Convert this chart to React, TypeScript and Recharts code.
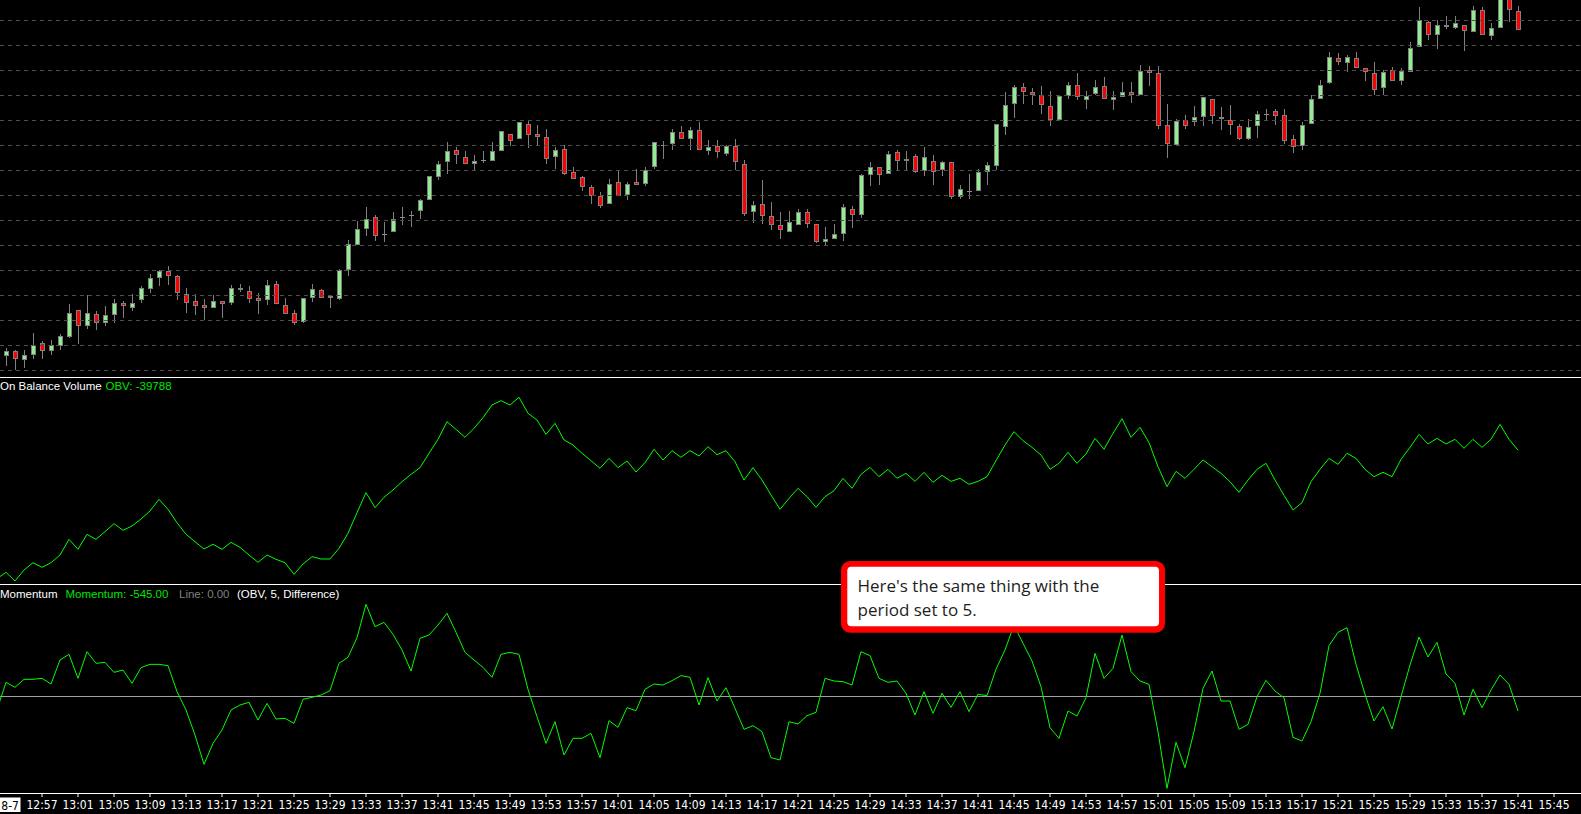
import React from 'react';
import { ComposedChart, LineChart, Line, Bar, XAxis, YAxis, ReferenceLine } from 'recharts';

// One-minute bars, first bar at 12:53 (price units: hidden axis, grid every 25)
const START_TIME = '12:53';

const openPrices = [
  38.7, 44.0, 34.7, 39.7, 51.7, 43.7, 48.7, 58.3, 84.7, 68.7,
  80.7, 71.7, 79.7, 91.7, 86.7, 94.7, 105.7, 116.7, 123.7, 118.7,
  100.7, 93.7, 89.7, 86.7, 93.7, 91.7, 106.7, 103.7, 96.7, 94.7,
  110.7, 89.7, 81.7, 73.3, 96.7, 104.7, 98.7, 95.7, 124.7, 150.3,
  165.7, 177.7, 160.5, 162.7, 178.2, 180.2, 183.7, 194.7, 217.7, 232.7,
  244.7, 237.7, 230.7, 234.7, 233.7, 243.7, 260.7, 255.7, 270.7, 260.7,
  257.7, 237.7, 245.7, 222.7, 217.7, 207.7, 198.7, 190.7, 212.7, 199.7,
  212.7, 210.7, 227.7, 250.5, 250.7, 262.7, 255.7, 264.7, 243.7, 248.7,
  240.7, 248.7, 230.7, 182.7, 190.7, 178.7, 169.7, 162.7, 169.7, 182.7,
  170.7, 152.7, 155.7, 160.7, 185.7, 179.7, 219.7, 227.7, 220.7, 242.7,
  233.7, 238.7, 223.7, 233.7, 224.7, 232.7, 197.7, 203.7, 203.7, 222.7,
  228.7, 267.7, 290.7, 307.7, 302.7, 299.7, 288.7, 274.7, 298.7, 309.7,
  294.7, 300.7, 308.7, 294.7, 297.7, 302.7, 299.7, 324.7, 321.7, 269.7,
  249.7, 274.7, 272.7, 277.7, 295.7, 277.7, 274.7, 268.7, 255.7, 268.7,
  281.2, 283.7, 279.7, 255.7, 248.7, 270.7, 295.7, 311.7, 336.7, 331.7,
  336.7, 326.7, 321.7, 306.7, 324.7, 313.7, 322.7, 347.7, 372.7, 359.7,
  369.7, 366.7, 369.7, 362.7, 384.7, 358.7, 366.7, 398.0, 383.7,
];

const highPrices = [
  46.7, 45.0, 45.0, 62.0, 54.0, 55.0, 61.0, 91.0, 85.5, 99.7,
  83.7, 89.0, 96.0, 93.7, 101.0, 109.0, 121.0, 125.0, 129.0, 119.7,
  107.0, 101.0, 96.0, 99.7, 93.7, 110.0, 111.0, 109.0, 102.0, 115.0,
  114.0, 97.0, 85.0, 96.7, 111.0, 106.3, 99.7, 125.7, 155.0, 174.3,
  188.0, 179.7, 173.0, 182.7, 187.7, 184.3, 195.7, 218.7, 233.7, 252.7,
  247.7, 243.7, 239.7, 243.7, 252.7, 263.7, 260.7, 272.7, 273.7, 269.7,
  265.7, 247.7, 249.7, 227.7, 218.7, 209.7, 202.7, 215.7, 224.7, 212.7,
  225.7, 227.7, 252.7, 253.7, 265.7, 268.7, 267.7, 272.7, 254.7, 254.7,
  249.7, 255.7, 234.7, 193.7, 214.7, 192.7, 182.7, 183.7, 185.7, 185.7,
  170.7, 167.7, 170.7, 190.7, 188.7, 220.7, 232.7, 227.7, 243.7, 244.7,
  243.7, 240.7, 247.7, 239.7, 233.7, 232.7, 209.7, 220.7, 225.7, 232.7,
  270.7, 302.7, 309.7, 311.7, 306.7, 308.7, 303.7, 299.7, 312.7, 321.7,
  303.7, 314.7, 317.7, 303.7, 312.7, 312.7, 329.7, 328.7, 328.7, 290.7,
  275.7, 279.7, 288.7, 297.7, 295.7, 287.7, 289.7, 270.7, 275.7, 283.7,
  285.7, 285.7, 285.7, 259.7, 272.7, 299.7, 314.7, 342.7, 341.7, 339.7,
  342.7, 326.7, 332.7, 324.7, 327.7, 326.7, 352.7, 387.7, 373.7, 374.7,
  378.7, 378.7, 369.7, 388.7, 387.7, 371.7, 405.0, 402.0, 388.7,
];

const lowPrices = [
  29.3, 25.0, 27.3, 36.3, 36.3, 40.3, 45.3, 57.3, 51.3, 66.3,
  65.3, 69.3, 72.3, 77.3, 84.3, 92.3, 102.3, 109.3, 110.3, 95.3,
  82.3, 80.3, 75.3, 86.7, 77.3, 89.7, 102.7, 91.7, 81.3, 90.3,
  90.7, 80.7, 69.7, 72.3, 92.7, 96.7, 87.3, 95.3, 119.3, 150.3,
  159.3, 154.3, 153.3, 162.7, 170.3, 168.3, 176.3, 194.7, 215.3, 220.7,
  230.7, 230.7, 224.7, 231.7, 233.7, 243.7, 248.7, 255.7, 246.7, 249.7,
  230.7, 225.7, 219.7, 215.7, 203.7, 191.3, 186.7, 190.7, 198.7, 195.3,
  209.7, 208.7, 225.7, 235.7, 244.7, 255.7, 244.7, 244.7, 239.7, 236.7,
  238.7, 224.7, 178.7, 171.7, 170.7, 165.3, 156.3, 162.7, 169.7, 166.7,
  151.7, 149.7, 155.7, 153.7, 166.7, 176.7, 208.7, 209.7, 220.7, 224.7,
  223.7, 221.7, 218.7, 209.7, 218.7, 195.7, 195.7, 195.7, 203.7, 209.7,
  224.7, 259.7, 276.7, 290.7, 289.7, 280.7, 268.7, 274.7, 295.7, 294.7,
  285.7, 299.7, 295.7, 284.7, 297.7, 291.7, 299.7, 308.7, 265.7, 236.7,
  249.7, 265.7, 268.7, 268.7, 270.7, 264.7, 259.7, 254.7, 254.7, 256.7,
  273.7, 269.7, 250.7, 241.7, 244.7, 270.7, 295.7, 310.7, 329.7, 322.7,
  326.7, 313.7, 299.7, 299.7, 313.7, 309.7, 322.7, 347.7, 354.7, 345.7,
  365.7, 365.7, 343.7, 362.7, 359.7, 354.7, 366.7, 372.7, 364.7,
];

const closePrices = [
  44.0, 35.7, 39.7, 49.7, 43.7, 49.7, 58.7, 81.7, 68.7, 81.7,
  71.7, 79.7, 91.7, 88.7, 91.7, 106.7, 116.7, 123.7, 118.7, 101.7,
  91.7, 88.7, 86.7, 93.7, 90.7, 106.7, 104.7, 95.7, 93.7, 109.7,
  90.7, 80.7, 71.7, 96.7, 105.7, 96.7, 96.7, 124.7, 150.7, 165.7,
  175.7, 158.7, 160.5, 175.7, 178.2, 180.2, 194.7, 218.7, 230.7, 243.7,
  239.7, 230.7, 233.7, 234.7, 243.7, 263.7, 253.7, 272.7, 259.7, 257.7,
  235.7, 244.7, 220.7, 215.7, 207.7, 198.7, 188.7, 210.7, 198.7, 210.7,
  209.7, 224.7, 252.7, 250.5, 262.7, 255.7, 264.7, 244.7, 247.7, 242.7,
  248.7, 232.7, 180.7, 189.7, 178.7, 169.7, 164.7, 172.7, 182.7, 170.7,
  152.7, 155.7, 160.7, 187.7, 179.7, 219.7, 227.7, 219.7, 240.7, 233.7,
  235.7, 222.7, 237.7, 222.7, 232.7, 197.7, 205.7, 203.7, 222.7, 229.7,
  270.7, 289.7, 307.7, 302.7, 299.7, 289.7, 274.7, 298.7, 309.7, 297.7,
  298.7, 307.7, 295.7, 297.7, 302.7, 299.7, 323.7, 321.7, 268.7, 250.7,
  273.7, 268.7, 277.7, 297.7, 278.7, 275.7, 269.7, 255.7, 267.7, 280.7,
  281.2, 278.7, 253.7, 247.7, 269.7, 295.7, 309.7, 337.7, 332.7, 337.7,
  326.7, 322.7, 304.7, 322.7, 313.7, 323.7, 346.7, 374.7, 359.7, 369.7,
  367.7, 371.7, 363.7, 384.7, 359.7, 366.7, 400.0, 384.7, 364.7,
];

// On Balance Volume, first value is the bar before 12:53 (12:52)
const obvValues = [
  -46342,
  -46019, -46461, -45900, -45526, -45764, -45526, -45135, -44336, -44846, -44081,
  -44336, -43945, -43537, -43877, -43656, -43299, -42891, -42296, -42806, -43486,
  -44081, -44455, -44829, -44591, -44846, -44489, -44744, -45135, -45509, -45135,
  -45356, -45526, -46121, -45594, -45220, -45339, -45339, -44795, -44030, -42976,
  -41956, -42721, -42194, -41820, -41395, -41021, -40681, -39950, -39236, -38335,
  -38726, -39134, -38675, -38131, -37485, -37264, -37485, -37094, -37910, -38250,
  -38981, -38420, -39270, -39525, -39950, -40324, -40715, -40205, -40681, -40341,
  -40902, -40426, -39746, -40290, -39814, -40154, -39814, -40086, -39610, -40018,
  -39814, -40375, -41310, -40681, -41310, -42075, -42806, -42245, -41735, -42160,
  -42704, -42160, -41854, -41225, -41735, -41021, -40664, -41140, -40766, -41225,
  -40970, -41378, -40919, -41429, -41072, -41378, -41225, -41531, -41378, -41140,
  -40324, -39525, -38845, -39304, -39644, -40035, -40766, -40460, -39899, -40460,
  -39984, -39185, -39746, -38930, -38182, -39134, -38624, -39406, -40630, -41650,
  -40868, -41225, -40766, -40290, -40630, -40970, -41395, -41939, -41310, -40766,
  -40460, -41310, -42092, -42840, -42466, -41395, -40766, -40205, -40511, -39950,
  -40205, -40766, -41140, -40919, -41140, -40256, -39644, -38981, -39474, -39185,
  -39474, -39236, -39695, -39236, -39644, -39236, -38471, -39236, -39788,
];

// Momentum (OBV, 5, Difference), first value is the bar before 12:53 (12:52)
const momentumValues = [
  -500,
  525, 338, 638, 638, 675, 463, 1363, 1575, 675, 1675,
  1238, 1275, 900, 988, 488, 1075, 1200, 1200, 1150, 175,
  -513, -1450, -2550, -1763, -1263, -513, -325, -225, -888, -263,
  -850, -825, -1013, -113, -38, 50, 213, 1238, 1463, 2200,
  3450, 2613, 2775, 2325, 1738, 950, 2175, 2300, 2675, 3113,
  2400, 1650, 1363, 1088, 713, 1575, 1650, 1575, 263, -763,
  -1763, -950, -2200, -1575, -1575, -1388, -2300, -913, -1163, -425,
  -538, 263, 463, 425, 588, 775, 713, -325, 700, -175,
  325, -450, -1238, -1100, -1325, -2300, -2388, -950, -1038, -725,
  -600, 675, 575, 550, 425, 1675, 1525, 675, 525, 575,
  113, -700, 175, -638, 113, -413, 175, -575, 75, 25,
  1013, 1738, 2675, 1988, 1325, 363, -1175, -1575, -550, -738,
  -50, 1613, 675, 1050, 2300, 925, 575, 450, -1325, -3450,
  -1725, -2675, -1325, 300, 950, -175, -175, -1238, -1050, -13,
  600, 200, -50, -1538, -1675, -950, 113, 1900, 2400, 2575,
  1200, 75, -925, -388, -1225, -13, 1175, 2225, 1475, 2025,
  838, 488, -700, 263, -425, 238, 800, 450, -545,
];

const tickLabels = [
  '12:57', '13:01', '13:05', '13:09', '13:13', '13:17', '13:21', '13:25', '13:29', '13:33',
  '13:37', '13:41', '13:45', '13:49', '13:53', '13:57', '14:01', '14:05', '14:09', '14:13',
  '14:17', '14:21', '14:25', '14:29', '14:33', '14:37', '14:41', '14:45', '14:49', '14:53',
  '14:57', '15:01', '15:05', '15:09', '15:13', '15:17', '15:21', '15:25', '15:29', '15:33',
  '15:37', '15:41', '15:45',
];

const gridLevels = [25, 50, 75, 100, 125, 150, 175, 200, 225, 250, 275, 300, 325, 350, 375];

const toMinutes = (s: string) => {
  const [h, m] = s.split(':').map(Number);
  return h * 60 + m;
};
const barOf = (s: string) => toMinutes(s) - toMinutes(START_TIME);

const candleData = openPrices.map((o, k) => ({
  bar: k,
  open: o,
  high: highPrices[k],
  low: lowPrices[k],
  close: closePrices[k],
}));
const obvData = obvValues.map((v, k) => ({ bar: k - 1, obv: v }));
const momData = momentumValues.map((v, k) => ({ bar: k - 1, mom: v }));
const tickBars = tickLabels.map(barOf);
const labelByBar = new Map<number, string>(tickBars.map((b, k) => [b, tickLabels[k]]));

const W = 1581;
const X_DOMAIN: [number, number] = [-2 / 3, 175];
const NO_MARGIN = { top: 0, right: 0, bottom: 0, left: 0 };
const AXIS_FONT = "'Liberation Sans Narrow', 'DejaVu Sans Condensed', 'Liberation Sans', sans-serif";
const LABEL_FONT = "'Liberation Sans', Arial, sans-serif";

const renderCandle = (props: any) => {
  const { x, y, width, height, payload } = props;
  if (!payload || x == null || y == null || isNaN(y)) return <g />;
  const { open, close, high, low } = payload;
  const cx = Math.round(x + width / 2);
  const top = Math.min(y, y + height);
  const bottom = Math.max(y, y + height);
  const span = high - low;
  const toY = (v: number) => (span > 0 ? top + ((high - v) / span) * (bottom - top) : top);
  const yHigh = Math.round(toY(high));
  const yLow = Math.round(toY(low));
  const yTop = Math.round(toY(Math.max(open, close)));
  const yBot = Math.round(toY(Math.min(open, close)));
  const wick = (
    <line x1={cx + 0.5} x2={cx + 0.5} y1={yHigh} y2={yLow} stroke="#808080" strokeWidth={1} />
  );
  if (close === open) {
    return (
      <g>
        {wick}
        <rect x={cx - 2} y={yTop} width={5} height={1} fill="#8c8c8c" />
      </g>
    );
  }
  const fill = close > open ? '#90ee90' : '#ff0000';
  return (
    <g>
      {wick}
      <rect
        x={cx - 1.5}
        y={yTop + 0.5}
        width={4}
        height={Math.max(yBot - yTop - 1, 1)}
        fill={fill}
        stroke="#808080"
        strokeWidth={1}
      />
    </g>
  );
};

export default function App() {
  return (
    <div style={{ position: 'relative', width: W, height: 814, background: '#000', overflow: 'hidden' }}>
      <style>{`html,body{margin:0;padding:0;background:#000;}`}</style>

      {/* Price pane */}
      <div style={{ position: 'absolute', left: 0, top: 0 }}>
        <ComposedChart width={W} height={377} data={candleData} margin={NO_MARGIN}>
          <XAxis dataKey="bar" type="number" domain={X_DOMAIN} allowDataOverflow hide />
          <YAxis type="number" domain={[18, 395]} allowDataOverflow hide />
          {gridLevels.map((g) => (
            <ReferenceLine
              key={g}
              y={g}
              stroke="#4e4e4e"
              strokeDasharray="4 4"
              shapeRendering="crispEdges"
            />
          ))}
          <Bar
            dataKey={(d: any) => [d.low, d.high]}
            barSize={9}
            shape={renderCandle}
            isAnimationActive={false}
          />
        </ComposedChart>
      </div>

      {/* OBV pane */}
      <div style={{ position: 'absolute', left: 0, top: 377 }}>
        <LineChart width={W} height={207} data={obvData} margin={NO_MARGIN}>
          <XAxis dataKey="bar" type="number" domain={X_DOMAIN} allowDataOverflow hide />
          <YAxis type="number" domain={[-46614, -36057]} allowDataOverflow hide />
          <Line
            dataKey="obv"
            type="linear"
            stroke="#00ff00"
            strokeWidth={1}
            dot={false}
            activeDot={false}
            isAnimationActive={false}
          />
        </LineChart>
      </div>

      {/* Momentum pane + time axis */}
      <div style={{ position: 'absolute', left: 0, top: 584 }}>
        <LineChart width={W} height={230} data={momData} margin={NO_MARGIN}>
          <XAxis
            dataKey="bar"
            type="number"
            domain={X_DOMAIN}
            allowDataOverflow
            ticks={tickBars}
            interval={0}
            tickFormatter={(b: number) => labelByBar.get(b) ?? ''}
            height={21}
            axisLine={{ stroke: '#ffffff', shapeRendering: 'crispEdges' }}
            tickLine={{ stroke: '#ffffff' }}
            tickSize={4}
            tickMargin={3}
            tick={{ fill: '#ffffff', fontSize: 12, fontFamily: AXIS_FONT }}
          />
          <YAxis type="number" domain={[-3625, 4212.5]} allowDataOverflow hide />
          <ReferenceLine y={0} stroke="#a0a0a0" shapeRendering="crispEdges" />
          <Line
            dataKey="mom"
            type="linear"
            stroke="#00ff00"
            strokeWidth={1}
            dot={false}
            activeDot={false}
            isAnimationActive={false}
          />
        </LineChart>
      </div>

      {/* pane separators */}
      <div style={{ position: 'absolute', left: 0, top: 377, width: W, height: 1, background: '#ffffff' }} />
      <div style={{ position: 'absolute', left: 0, top: 584, width: W, height: 1, background: '#ffffff' }} />

      {/* text overlay */}
      <svg
        width={W}
        height={814}
        style={{ position: 'absolute', left: 0, top: 0, pointerEvents: 'none' }}
      >
        <g fontFamily={LABEL_FONT} fontSize={11.5}>
          <text x={0} y={390} fill="#ffffff">On Balance Volume</text>
          <text x={105.5} y={390} fill="#00e600">OBV: -39788</text>
          <text x={0} y={597.5} fill="#ffffff">Momentum</text>
          <text x={65.5} y={597.5} fill="#00e600">Momentum: -545.00</text>
          <text x={179} y={597.5} fill="#808080">Line: 0.00</text>
          <text x={237} y={597.5} fill="#ffffff">(OBV, 5, Difference)</text>
        </g>

        <rect x={0} y={797.5} width={20.5} height={14.5} fill="#ffffff" />
        <text x={19} y={809.5} fill="#000000" fontSize={12} fontFamily={AXIS_FONT} textAnchor="end">
          8-7
        </text>

        <rect x={841} y={561} width={324} height={71.7} rx={9} fill="#ff0000" />
        <rect x={847.3} y={566.7} width={311.7} height={59.6} rx={4} fill="#ffffff" />
        <g fontFamily="'Segoe UI', 'Open Sans', 'Noto Sans', sans-serif" fontSize={17} fill="#1e1e1e">
          <text x={857.5} y={592.3}>Here's the same thing with the</text>
          <text x={857.5} y={615.7}>period set to 5.</text>
        </g>
      </svg>
    </div>
  );
}
